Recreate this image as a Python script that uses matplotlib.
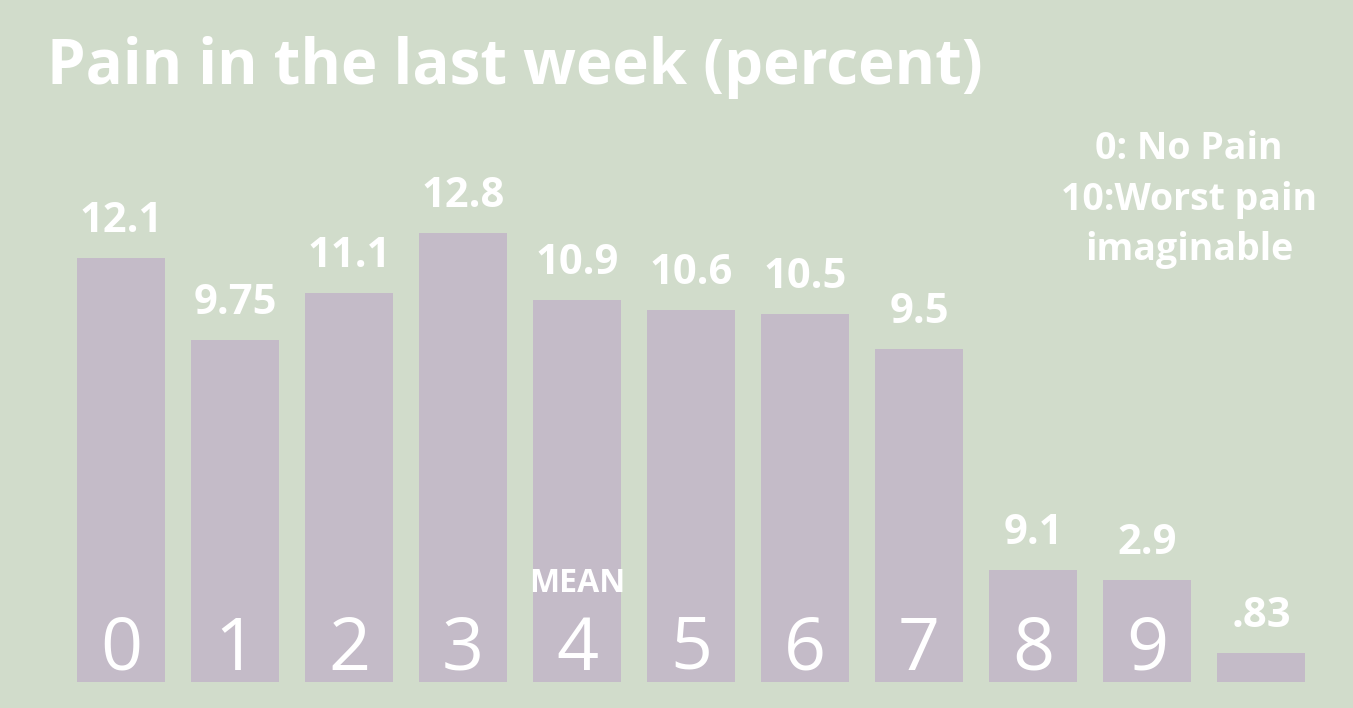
import matplotlib.pyplot as plt

# Data
categories = ["0", "1", "2", "3", "4", "5", "6", "7", "8", "9", ""]
values = [12.1, 9.75, 11.1, 12.8, 10.9, 10.6, 10.5, 9.5, 3.19, 2.89, 0.82]
value_labels = ["12.1", "9.75", "11.1", "12.8", "10.9", "10.6", "10.5", "9.5", "9.1", "2.9", ".83"]
legend_lines = ["0: No Pain", "10:Worst pain", "imaginable"]

bg = "#D1DCCB"
bar_color = "#C4BBC8"
font = "Open Sans"

fig = plt.figure(figsize=(13.53, 7.08), dpi=100, facecolor=bg)
ax = fig.add_axes([0, 0, 1, 1])
ax.set_facecolor(bg)
ax.axis("off")

x = list(range(len(values)))
ax.bar(x, values, width=0.77, color=bar_color)
ax.set_xlim(-121 / 114, (1353 - 121) / 114)
ax.set_ylim(-26.3 / 35.05, (708 - 26.3) / 35.05)

for i, (v, lab) in enumerate(zip(values, value_labels)):
    ax.annotate(lab, (i, v), xytext=(0, 26), textcoords="offset pixels",
                ha="center", va="baseline", color="white", fontsize=30,
                fontweight="bold", family=font)
    if categories[i]:
        ax.annotate(categories[i], (i, 0), xytext=(0, 12), textcoords="offset pixels",
                    ha="center", va="baseline", color="white", fontsize=53,
                    family=font)

ax.annotate("MEAN", (4, 0), xytext=(0, 90), textcoords="offset pixels",
            ha="center", va="baseline", color="white", fontsize=23,
            fontweight="bold", family=font)

fig.text(47 / 1353, 1 - 84 / 708, "Pain in the last week (percent)", ha="left",
         va="baseline", color="white", fontsize=44.5, fontweight="bold", family=font)

for txt, yb in zip(legend_lines, [159, 210, 260]):
    fig.text(1189 / 1353, 1 - yb / 708, txt, ha="center", va="baseline",
             color="white", fontsize=27, fontweight="bold", family=font)

plt.savefig("out.png", dpi=100, facecolor=bg)
